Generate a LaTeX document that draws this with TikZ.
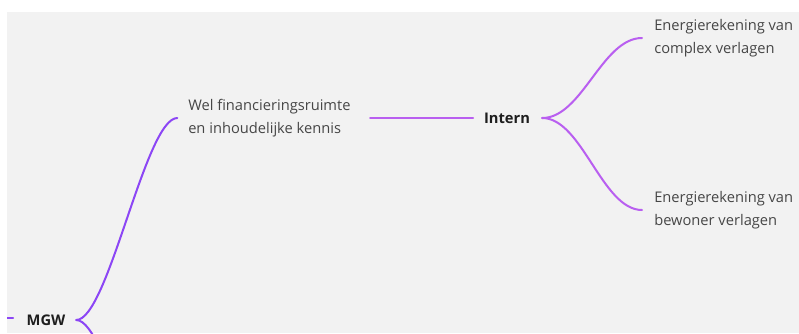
\documentclass[tikz,border=0pt]{standalone}
\usepackage{fontspec}
\setmainfont{Open Sans}
\definecolor{canvas}{RGB}{242,242,242}
\definecolor{violetline}{RGB}{140,70,245}
\definecolor{magentaline}{RGB}{185,95,240}
\definecolor{leaftext}{RGB}{70,70,70}
\definecolor{headtext}{RGB}{30,30,30}
\tikzset{
  leaf/.style={anchor=west,align=left,inner sep=0pt,text=leaftext,font=\fontsize{11}{17}\selectfont},
  head/.style={inner sep=0pt,text=headtext,font=\fontsize{11}{13}\selectfont\bfseries},
  branch/.style={line width=1.5pt,line cap=round},
}
\begin{document}
\begin{tikzpicture}[x=0.75pt,y=0.75pt,yscale=-1,xscale=1]
        \useasboundingbox (0,0) rectangle (799,333);
        %Canvas
        \fill[canvas] (7,12) rectangle (799,333);
        \clip (7,12) rectangle (799,333);

        % Text Node
        \node[head] (mgw) at (46,320) {MGW};
        % Text Node
        \node[leaf] (wel) at (188,118) {Wel financieringsruimte\\en inhoudelijke kennis};
        % Text Node
        \node[head] (intern) at (507,118) {Intern};
        % Text Node
        \node[leaf] (complex) at (654,38) {Energierekening van\\complex verlagen};
        % Text Node
        \node[leaf] (bewoner) at (654,210) {Energierekening van\\bewoner verlagen};

        \coordinate (parent) at (-20,318);
        \coordinate (extern) at (180,522);

        %Curves
        \draw[branch,violetline] (parent) -- ([xshift=-10]mgw.west |- 0,318);
        \draw[branch,violetline] ([xshift=8]mgw.east) .. controls +(32,0) and +(-32,0) .. ([xshift=-8]wel.west);
        \draw[branch,violetline] ([xshift=8]mgw.east) .. controls +(32,0) and +(-32,0) .. (extern);
        \draw[branch,magentaline] (370,118) -- ([xshift=-8]intern.west);
        \draw[branch,magentaline] ([xshift=9]intern.east) .. controls +(40,0) and +(-40,0) .. ([xshift=-9]complex.west);
        \draw[branch,magentaline] ([xshift=9]intern.east) .. controls +(40,0) and +(-40,0) .. ([xshift=-9]bewoner.west);
\end{tikzpicture}
\end{document}
